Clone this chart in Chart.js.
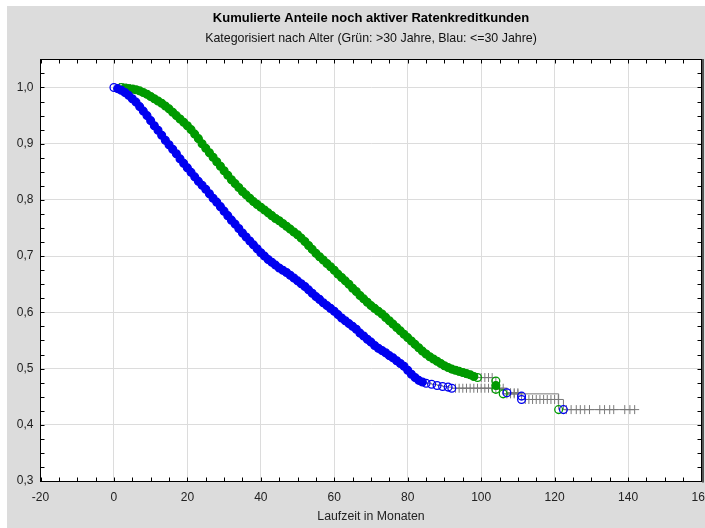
<!DOCTYPE html>
<html><head><meta charset="utf-8">
<script src="https://cdn.jsdelivr.net/npm/chart.js@4.4.1/dist/chart.umd.min.js"></script>
<style>html,body{margin:0;padding:0;overflow:hidden;background:#fff}canvas{display:block}</style>
</head><body><canvas id="c" width="712" height="528"></canvas>
<script>
const titleText = 'Kumulierte Anteile noch aktiver Ratenkreditkunden';
const subtitleText = 'Kategorisiert nach Alter (Grün: >30 Jahre, Blau: <=30 Jahre)';
const xAxisTitle = 'Laufzeit in Monaten';
const xTickValues = [-20, 0, 20, 40, 60, 80, 100, 120, 140, 160];
const yTickValues = [0.3, 0.4, 0.5, 0.6, 0.7, 0.8, 0.9, 1.0];

// Blau: <=30 Jahre  (Ereignisse = Kreise)
const blueEventMonths = [0,1,2,3,4,5,6,7,8,9,10,11,12,13,14,15,16,17,18,19,20,21,22,23,24,25,26,27,28,29,30,31,32,33,34,35,36,37,38,39,40,41,42,43,44,45,46,47,48,49,50,51,52,53,54,55,56,57,58,59,60,61,62,63,64,65,66,67,68,69,70,71,72,73,74,75,76,77,78,79,80,81,82,83,84,85,86.5,88,89.5,91,92,107,111,111,122.4];
const blueEventSurv = [1.000,0.998,0.995,0.991,0.986,0.980,0.974,0.966,0.958,0.950,
 0.941,0.932,0.924,0.915,0.906,0.898,0.890,0.882,0.873,0.865,
 0.857,0.849,0.841,0.833,0.826,0.819,0.811,0.803,0.796,0.788,
 0.780,0.772,0.764,0.757,0.749,0.741,0.734,0.727,0.720,0.713,
 0.706,0.700,0.694,0.689,0.684,0.679,0.675,0.671,0.666,0.661,
 0.656,0.651,0.646,0.640,0.634,0.628,0.623,0.617,0.612,0.607,
 0.602,0.596,0.590,0.585,0.580,0.575,0.570,0.563,0.558,0.552,
 0.547,0.541,0.536,0.532,0.528,0.523,0.519,0.514,0.509,0.504,
 0.497,0.490,0.484,0.479,0.476,0.474,0.472,0.470,0.468,0.467,0.465,
 0.457,0.451,0.445,0.427];
// Blau: zensierte Fälle (Kreuze)
const blueCensMonths = [93,94,95,96,97,98,99,100,101,102,103,104,105,106,108,109,110,112,113,114,115,116,117,118,119,120,121,123.2,124.5,125.9,127,128.2,129.5,132.3,133.6,135,136.1,139.1,140.5,141.8];
const blueCensSurv = [0.465,0.465,0.465,0.465,0.465,0.465,0.465,0.465,0.465,0.465,0.465,0.465,0.465,0.465,
 0.457,0.457,0.457,
 0.445,0.445,0.445,0.445,0.445,0.445,0.445,0.445,0.445,0.445,
 0.427,0.427,0.427,0.427,0.427,0.427,0.427,0.427,0.427,0.427,0.427,0.427,0.427];

// Grün: >30 Jahre  (Ereignisse = Kreise)
const greenEventMonths = [2,3,4,5,6,7,8,9,10,11,12,13,14,15,16,17,18,19,20,21,22,23,24,25,26,27,28,29,30,31,32,33,34,35,36,37,38,39,40,41,42,43,44,45,46,47,48,49,50,51,52,53,54,55,56,57,58,59,60,61,62,63,64,65,66,67,68,69,70,71,72,73,74,75,76,77,78,79,80,81,82,83,84,85,86,87,88,89,90,91,92,93,94,95,96,97,98,99,104,104,104,106,121.1];
const greenEventSurv = [1.000,0.999,0.998,0.997,0.996,0.994,0.991,0.988,
 0.984,0.980,0.976,0.972,0.967,0.962,0.956,0.950,0.944,0.938,
 0.932,0.925,0.917,0.909,0.900,0.892,0.884,0.876,0.868,0.860,
 0.852,0.844,0.836,0.829,0.822,0.815,0.809,0.803,0.797,0.792,
 0.787,0.782,0.777,0.772,0.767,0.763,0.758,0.753,0.748,0.743,
 0.738,0.732,0.726,0.719,0.712,0.705,0.699,0.693,0.687,0.681,
 0.675,0.668,0.662,0.656,0.650,0.643,0.637,0.630,0.624,0.618,
 0.612,0.607,0.602,0.597,0.591,0.585,0.579,0.573,0.567,0.561,
 0.555,0.549,0.543,0.537,0.531,0.526,0.521,0.517,0.513,0.509,
 0.505,0.502,0.499,0.497,0.495,0.493,0.491,0.489,0.486,0.484,
 0.478,0.470,0.463,0.455,0.427];
// Grün: zensierte Fälle (Kreuze)
const greenCensMonths = [1.5,2.5,3.5,4.5,5.5,6.5,93.5,95.5,97.5,100,101,102,103,107,108,109,110];
const greenCensSurv = [1.000,1.000,0.999,0.998,0.997,0.995,0.496,0.492,0.488,0.484,0.484,0.484,0.484,0.455,0.455,0.455,0.455];

const FONT = "'Liberation Sans', Arial, sans-serif";
const BLUE = '#0000f0';
const GREEN = '#009a00';
const GREY = '#7a7a7a';

function pts(xs, ys) { return xs.map((x, i) => ({ x: x, y: ys[i] })); }
function stepPts(ex, ey, cx, cy) {
  const a = pts(ex, ey).map((p, i) => ({ ...p, k: 0, i }));
  const b = pts(cx, cy).map((p, i) => ({ ...p, k: 1, i }));
  return a.concat(b).sort((p, q) => p.x - q.x || p.k - q.k || p.i - q.i).map(p => ({ x: p.x, y: p.y }));
}
function denseFill(color) {
  return (ctx) => {
    const d = ctx.dataset.data, i = ctx.dataIndex;
    const p = d[i], pr = d[i - 1], nx = d[i + 1];
    const dense = pr && nx && (nx.x - p.x) <= 1.01 && (p.x - pr.x) <= 1.01;
    return dense ? color : 'rgba(255,255,255,0)';
  };
}

const bgPlugin = {
  id: 'bg',
  beforeDraw(chart) {
    const { ctx, chartArea: a, width, height } = chart;
    ctx.save();
    ctx.fillStyle = '#ffffff'; ctx.fillRect(0, 0, width, height);
    ctx.fillStyle = '#dcdcdc'; ctx.fillRect(7, 6, width - 7, height - 6);
    ctx.fillStyle = '#ffffff'; ctx.fillRect(a.left, a.top, a.right - a.left, a.bottom - a.top);
    ctx.restore();
  }
};
const framePlugin = {
  id: 'frame',
  beforeDatasetsDraw(chart) {
    const { ctx, chartArea: a, scales } = chart;
    const x = scales.x, y = scales.y;
    const L = Math.floor(a.left) + 0.5, R = Math.floor(a.right) + 0.5, T = Math.floor(a.top) + 0.5, B = Math.floor(a.bottom) + 0.5;
    ctx.save();
    ctx.strokeStyle = '#000'; ctx.lineWidth = 1;
    ctx.beginPath();
    for (let k = 0; k <= 36; k++) {
      const px = Math.round(x.getPixelForValue(x.min + k * 5)) + 0.5;
      ctx.moveTo(px, B); ctx.lineTo(px, B - 4);
      ctx.moveTo(px, T); ctx.lineTo(px, T + 4);
    }
    for (let k = 0; k <= 30; k++) {
      const py = Math.round(y.getPixelForValue(y.min + k * 0.025)) + 0.5;
      ctx.moveTo(L, py); ctx.lineTo(L + 4, py);
      ctx.moveTo(R, py); ctx.lineTo(R - 4, py);
    }
    ctx.stroke();
    ctx.strokeRect(L, T, R - L, B - T);
    ctx.strokeStyle = '#555'; ctx.lineWidth = 2;
    ctx.beginPath(); ctx.moveTo(R + 1.5, T - 0.5); ctx.lineTo(R + 1.5, B + 1); ctx.stroke();
    ctx.restore();
  }
};

new Chart(document.getElementById('c'), {
  type: 'scatter',
  data: {
    datasets: [
      { label: 'Blau Linie', data: stepPts(blueEventMonths, blueEventSurv, blueCensMonths, blueCensSurv), showLine: true, stepped: 'before', borderColor: GREY, borderWidth: 1, pointRadius: 0, order: 3 },
      { label: 'Grün Linie', data: stepPts(greenEventMonths, greenEventSurv, greenCensMonths, greenCensSurv), showLine: true, stepped: 'before', borderColor: GREY, borderWidth: 1, pointRadius: 0, order: 3 },
      { label: 'Blau zensiert', data: pts(blueCensMonths, blueCensSurv), pointStyle: 'cross', pointRadius: 4.5, pointBorderWidth: 1, borderColor: GREY, order: 2 },
      { label: 'Grün zensiert', data: pts(greenCensMonths, greenCensSurv), pointStyle: 'cross', pointRadius: 4.5, pointBorderWidth: 1, borderColor: GREY, order: 2 },
      { label: 'Grün', data: pts(greenEventMonths, greenEventSurv), pointStyle: 'circle', pointRadius: 3.9, pointBorderWidth: 1.3, borderColor: GREEN, backgroundColor: denseFill(GREEN), order: 1 },
      { label: 'Blau', data: pts(blueEventMonths, blueEventSurv), pointStyle: 'circle', pointRadius: 3.9, pointBorderWidth: 1.3, borderColor: BLUE, backgroundColor: denseFill(BLUE), order: 0 }
    ]
  },
  options: {
    responsive: false,
    animation: false,
    events: [],
    layout: { padding: { left: 0, right: 0, top: 0, bottom: 0 } },
    plugins: {
      legend: { display: false },
      tooltip: { enabled: false },
      title: { display: true, text: titleText, fullSize: false, color: '#000', font: { family: FONT, size: 13, weight: 'bold' }, padding: { top: 10.2, bottom: 0 } },
      subtitle: { display: true, text: subtitleText, fullSize: false, color: '#111', font: { family: FONT, size: 12.4, weight: 'normal' }, padding: { top: 5.8, bottom: 12.9 } }
    },
    scales: {
      x: {
        type: 'linear', min: -20, max: 160,
        afterBuildTicks: (s) => { s.ticks = xTickValues.map(v => ({ value: v })); },
        afterFit: (s) => { s.height = 47; s.paddingRight = 10.5; s.paddingLeft = 0; },
        grid: { drawTicks: false, lineWidth: 1, color: (c) => (c.tick && (c.tick.value === -20 || c.tick.value === 160)) ? 'rgba(0,0,0,0)' : '#dcdcdc' },
        border: { display: false },
        ticks: { autoSkip: false, maxRotation: 0, padding: 9, color: '#222', font: { family: FONT, size: 12 }, callback: (v) => String(v) },
        title: { display: true, text: xAxisTitle, color: '#222', font: { family: FONT, size: 12.3 }, padding: { top: 0, bottom: 4 } }
      },
      y: {
        type: 'linear', min: 0.3, max: 1.05,
        afterBuildTicks: (s) => { s.ticks = yTickValues.map(v => ({ value: v })); },
        afterFit: (s) => { s.width = 40.5; },
        grid: { drawTicks: false, lineWidth: 1, color: (c) => (c.tick && Math.abs(c.tick.value - 0.3) < 1e-6) ? 'rgba(0,0,0,0)' : '#dcdcdc' },
        border: { display: false },
        ticks: { autoSkip: false, padding: 7, color: '#222', font: { family: FONT, size: 12 }, callback: (v) => Number(v).toFixed(1).replace('.', ',') }
      }
    }
  },
  plugins: [bgPlugin, framePlugin]
});
</script>
</body></html>
